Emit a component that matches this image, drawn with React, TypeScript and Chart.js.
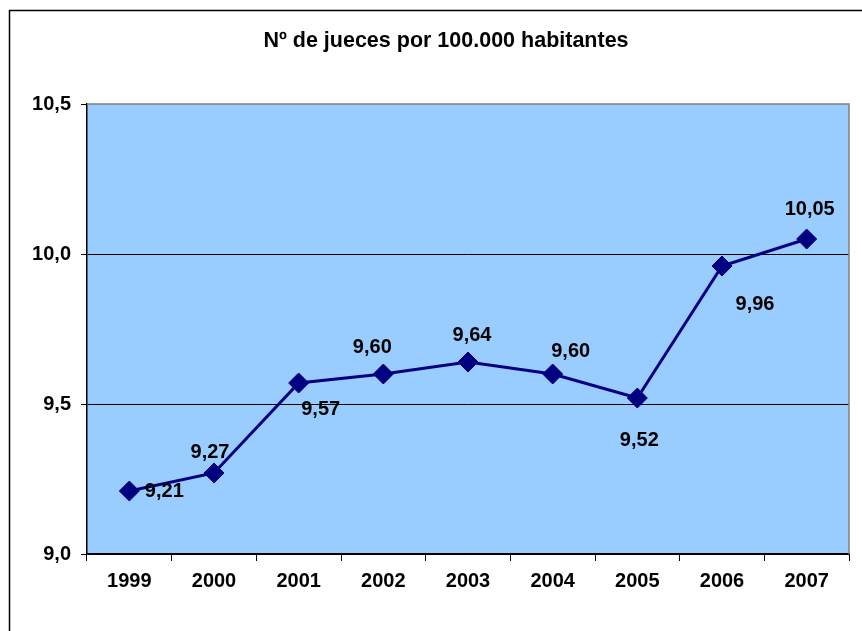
import React, { useEffect, useRef } from "react";
import { Chart, registerables } from "chart.js";

Chart.register(...registerables);

const categories = ["1999", "2000", "2001", "2002", "2003", "2004", "2005", "2006", "2007"];
const judgesPer100k = [9.21, 9.27, 9.57, 9.6, 9.64, 9.6, 9.52, 9.96, 10.05];
const yTicks = [9.0, 9.5, 10.0, 10.5];
const titleText = "Nº de jueces por 100.000 habitantes";

// label offsets (style): [dx, dy] relative to each point
const labelOffsets: [number, number][] = [
  [35, 0], [-4, -21], [22, 26], [-11, -27], [4, -27], [18, -23], [2, 42], [33, 38], [3, -30],
];

const FONT = '"Liberation Sans", Arial, sans-serif';

const fmt = (v: number, d: number) => v.toFixed(d).replace(".", ",");

const decorPlugin = {
  id: "decor",
  beforeDraw(chart: any) {
    const { ctx, chartArea: a } = chart;
    ctx.save();
    ctx.fillStyle = "#ffffff";
    ctx.fillRect(0, 0, chart.width, chart.height);
    ctx.fillStyle = "#99CCFF";
    ctx.fillRect(a.left, a.top, a.right - a.left, a.bottom - a.top);
    // outer frame
    ctx.strokeStyle = "#000000";
    ctx.lineWidth = 1.5;
    ctx.beginPath();
    ctx.moveTo(9.5, chart.height + 10);
    ctx.lineTo(9.5, 10.5);
    ctx.lineTo(chart.width + 10, 10.5);
    ctx.stroke();
    // title
    ctx.fillStyle = "#000000";
    ctx.font = `bold 21.5px ${FONT}`;
    ctx.textAlign = "center";
    ctx.textBaseline = "middle";
    ctx.fillText(titleText, 446, 41);
    ctx.restore();
  },
  beforeDatasetsDraw(chart: any) {
    const { ctx, chartArea: a } = chart;
    ctx.save();
    ctx.strokeStyle = "#808080";
    ctx.lineWidth = 1.5;
    ctx.beginPath();
    ctx.moveTo(a.left, a.top);
    ctx.lineTo(a.right, a.top);
    ctx.lineTo(a.right, a.bottom);
    ctx.stroke();
    ctx.restore();
  },
  afterDatasetsDraw(chart: any) {
    const { ctx } = chart;
    const meta = chart.getDatasetMeta(0);
    ctx.save();
    ctx.fillStyle = "#000000";
    ctx.font = `bold 20px ${FONT}`;
    ctx.textAlign = "center";
    ctx.textBaseline = "middle";
    meta.data.forEach((el: any, i: number) => {
      const [dx, dy] = labelOffsets[i] || [0, -25];
      ctx.fillText(fmt(judgesPer100k[i], 2), el.x + dx, el.y + dy);
    });
    ctx.restore();
  },
};

export default function App() {
  const ref = useRef<HTMLCanvasElement | null>(null);
  useEffect(() => {
    if (!ref.current) return;
    const chart = new Chart(ref.current, {
      type: "line",
      data: {
        labels: categories,
        datasets: [
          {
            data: judgesPer100k,
            borderColor: "#000080",
            borderWidth: 3,
            backgroundColor: "#000080",
            pointStyle: "rectRot",
            pointRadius: 10,
            pointBorderWidth: 1,
            pointBorderColor: "#000080",
            pointBackgroundColor: "#000080",
            tension: 0,
          },
        ],
      },
      options: {
        responsive: false,
        animation: false,
        layout: { padding: { top: 104, right: 13, left: 0, bottom: 0 } },
        plugins: {
          legend: { display: false },
          title: { display: false },
          tooltip: { enabled: false },
        },
        scales: {
          x: {
            type: "category",
            offset: true,
            afterFit: (s: any) => { s.height = 77; },
            grid: {
              offset: true,
              drawOnChartArea: false,
              drawTicks: true,
              tickLength: 7,
              tickColor: "#000000",
              tickWidth: 1,
            },
            border: { display: true, color: "#000000", width: 1.5 },
            ticks: {
              color: "#000000",
              font: { family: FONT, size: 20, weight: "bold" },
              padding: 8,
              maxRotation: 0,
            },
          },
          y: {
            min: yTicks[0],
            max: yTicks[yTicks.length - 1],
            afterFit: (s: any) => { s.width = 87; },
            afterBuildTicks: (s: any) => { s.ticks = yTicks.map((v) => ({ value: v })); },
            grid: {
              color: (c: any) => (c.tick && c.tick.value === 10.5 ? "rgba(0,0,0,0)" : "#000000"),
              lineWidth: 1,
              drawTicks: true,
              tickLength: 6,
              tickColor: "#000000",
              tickWidth: 1,
            },
            border: { display: true, color: "#000000", width: 1.5 },
            ticks: {
              color: "#000000",
              font: { family: FONT, size: 20, weight: "bold" },
              padding: 10,
              callback: (v: any) => fmt(Number(v), 1),
            },
          },
        },
      },
      plugins: [decorPlugin],
    } as any);
    return () => chart.destroy();
  }, []);
  return (
    <div style={{ position: "absolute", left: 0, top: 0, width: 862, height: 631 }}>
      <canvas ref={ref} width={862} height={631} style={{ display: "block", width: 862, height: 631 }} />
    </div>
  );
}
